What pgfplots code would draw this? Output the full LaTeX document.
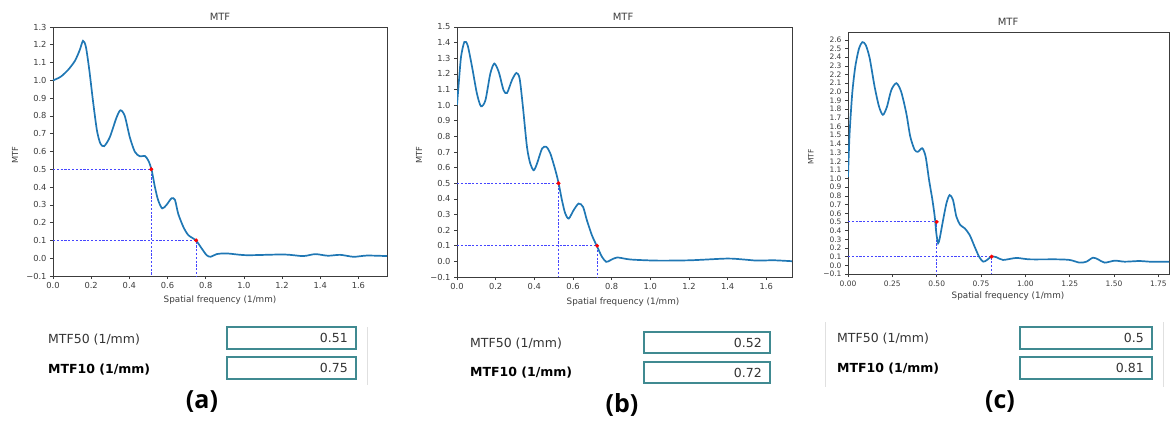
\documentclass[border=0pt]{standalone}
\usepackage{pgfplots}
\pgfplotsset{compat=1.18}
\usepackage{fontspec}
\setmainfont{DejaVu Sans}
\newfontfamily\capfont{Open Sans}
\definecolor{mplblue}{HTML}{1F77B4}
\definecolor{boxteal}{RGB}{64,138,145}
\definecolor{axgray}{RGB}{60,60,60}
\definecolor{guideblue}{RGB}{70,70,255}

\pgfplotsset{
  mtf/.style={
    scale only axis, anchor=south west,
    axis line style={axgray, line width=0.6pt},
    tick align=outside, xtick pos=bottom, ytick pos=left,
    major tick length=3pt,
    tick style={axgray, line width=0.6pt},
    ticklabel style={font=\fontsize{8.3}{9}\selectfont, text=axgray},
    clip=true,
  },
  curve/.style={draw=mplblue, line width=1.7pt, smooth, tension=0.45, no markers},
  guide/.style={draw=guideblue, line width=1pt, dash pattern=on 2.2pt off 1.6pt, no markers},
  hit/.style={draw=red, fill=red, only marks, mark=*, mark size=1.8pt},
}

\begin{document}
\begin{tikzpicture}
\useasboundingbox (0,0) rectangle (1170pt,421pt);

% ---------------- (a) ----------------
\begin{axis}[mtf, at={(53pt,145pt)}, width=334pt, height=249pt,
  xmin=0, xmax=1.75, ymin=-0.1, ymax=1.3,
  xtick={0,0.2,0.4,0.6,0.8,1.0,1.2,1.4,1.6},
  xticklabels={0.0,0.2,0.4,0.6,0.8,1.0,1.2,1.4,1.6},
  ytick={-0.1,0,0.1,0.2,0.3,0.4,0.5,0.6,0.7,0.8,0.9,1.0,1.1,1.2,1.3},
  yticklabels={−0.1,0.0,0.1,0.2,0.3,0.4,0.5,0.6,0.7,0.8,0.9,1.0,1.1,1.2,1.3}]
\addplot[guide] coordinates {(0,0.5) (0.515,0.5) (0.515,-0.1)};
\addplot[guide] coordinates {(0,0.1) (0.75,0.1) (0.75,-0.1)};
\addplot[curve] coordinates {
(0,1.0) (0.04,1.02) (0.08,1.06) (0.115,1.11) (0.14,1.17) (0.157,1.222) (0.172,1.19)
(0.19,1.06) (0.21,0.88) (0.23,0.72) (0.248,0.645) (0.268,0.63) (0.2975,0.68) (0.3325,0.79)
(0.3535,0.832) (0.376,0.80) (0.4025,0.68) (0.429,0.598) (0.455,0.573) (0.481,0.575)
(0.499,0.55) (0.516,0.50) (0.534,0.40) (0.551,0.326) (0.572,0.28) (0.595,0.30)
(0.621,0.337) (0.639,0.328) (0.656,0.25) (0.683,0.176) (0.709,0.13) (0.749,0.10)
(0.779,0.055) (0.805,0.017) (0.826,0.008) (0.8575,0.023) (0.91,0.027) (1.015,0.017)
(1.21,0.021) (1.31,0.012) (1.374,0.023) (1.44,0.014) (1.505,0.019) (1.575,0.008)
(1.645,0.015) (1.75,0.012)};
\addplot[hit] coordinates {(0.515,0.5) (0.75,0.1)};
\end{axis}

% ---------------- (b) ----------------
\begin{axis}[mtf, at={(457pt,144pt)}, width=335pt, height=250pt,
  xmin=0, xmax=1.733, ymin=-0.1, ymax=1.5,
  xtick={0,0.2,0.4,0.6,0.8,1.0,1.2,1.4,1.6},
  xticklabels={0.0,0.2,0.4,0.6,0.8,1.0,1.2,1.4,1.6},
  ytick={-0.1,0,0.1,0.2,0.3,0.4,0.5,0.6,0.7,0.8,0.9,1.0,1.1,1.2,1.3,1.4,1.5},
  yticklabels={−0.1,0.0,0.1,0.2,0.3,0.4,0.5,0.6,0.7,0.8,0.9,1.0,1.1,1.2,1.3,1.4,1.5}]
\addplot[guide] coordinates {(0,0.5) (0.525,0.5) (0.525,-0.1)};
\addplot[guide] coordinates {(0,0.1) (0.725,0.1) (0.725,-0.1)};
\addplot[curve] coordinates {
(0,1.0) (0.009,1.14) (0.021,1.31) (0.038,1.404) (0.055,1.383) (0.078,1.244)
(0.103,1.074) (0.124,0.993) (0.147,1.031) (0.172,1.20) (0.193,1.266) (0.216,1.212)
(0.241,1.095) (0.259,1.078) (0.284,1.159) (0.307,1.206) (0.324,1.17) (0.341,0.988)
(0.362,0.732) (0.379,0.626) (0.397,0.583) (0.414,0.626) (0.44,0.722) (0.462,0.733)
(0.483,0.69) (0.509,0.583) (0.526,0.498) (0.543,0.391) (0.560,0.306) (0.578,0.274)
(0.603,0.327) (0.629,0.37) (0.652,0.349) (0.672,0.263) (0.698,0.167) (0.724,0.097)
(0.75,0.029) (0.772,-0.003) (0.793,0.007) (0.828,0.025) (0.897,0.012) (1.034,0.005)
(1.207,0.007) (1.397,0.018) (1.483,0.012) (1.552,0.005) (1.638,0.007) (1.733,0.001)};
\addplot[hit] coordinates {(0.525,0.5) (0.725,0.1)};
\end{axis}

% ---------------- (c) ----------------
\begin{axis}[mtf, at={(848pt,147pt)}, width=321pt, height=242pt,
  xmin=0, xmax=1.81, ymin=-0.1, ymax=2.69,
  ticklabel style={font=\fontsize{7.5}{8}\selectfont},
  xtick={0,0.25,0.5,0.75,1.0,1.25,1.5,1.75},
  xticklabels={0.00,0.25,0.50,0.75,1.00,1.25,1.50,1.75},
  ytick={-0.1,0,0.1,0.2,0.3,0.4,0.5,0.6,0.7,0.8,0.9,1.0,1.1,1.2,1.3,1.4,1.5,1.6,1.7,1.8,1.9,2.0,2.1,2.2,2.3,2.4,2.5,2.6},
  yticklabels={−0.1,0.0,0.1,0.2,0.3,0.4,0.5,0.6,0.7,0.8,0.9,1.0,1.1,1.2,1.3,1.4,1.5,1.6,1.7,1.8,1.9,2.0,2.1,2.2,2.3,2.4,2.5,2.6}]
\addplot[guide] coordinates {(0,0.5) (0.5,0.5) (0.5,-0.1)};
\addplot[guide] coordinates {(0,0.1) (0.81,0.1) (0.81,-0.1)};
\addplot[curve] coordinates {
(0,1.02) (0.009,1.52) (0.024,1.985) (0.041,2.29) (0.062,2.50) (0.081,2.573)
(0.10,2.54) (0.122,2.39) (0.15,2.06) (0.175,1.83) (0.197,1.735) (0.22,1.83)
(0.244,2.02) (0.273,2.10) (0.30,2.0) (0.329,1.75) (0.351,1.485) (0.376,1.33)
(0.395,1.31) (0.419,1.35) (0.438,1.25) (0.457,0.985) (0.476,0.754) (0.489,0.562)
(0.498,0.37) (0.508,0.254) (0.517,0.31) (0.536,0.52) (0.555,0.715) (0.573,0.81)
(0.592,0.754) (0.611,0.562) (0.633,0.465) (0.658,0.427) (0.686,0.35) (0.714,0.215)
(0.739,0.10) (0.762,0.042) (0.784,0.062) (0.808,0.10) (0.836,0.095) (0.874,0.062)
(0.949,0.085) (1.024,0.069) (1.174,0.069) (1.25,0.062) (1.306,0.031) (1.344,0.042)
(1.381,0.088) (1.41,0.069) (1.447,0.031) (1.504,0.054) (1.56,0.042) (1.645,0.05)
(1.70,0.042) (1.814,0.042)};
\addplot[hit] coordinates {(0.5,0.5) (0.81,0.1)};
\end{axis}

% ---------------- axis texts ----------------
\begin{scope}[every node/.style={text=axgray, inner sep=0pt}]
\node[font=\fontsize{10}{11}\selectfont] at (220pt,404pt) {MTF};
\node[font=\fontsize{10}{11}\selectfont] at (623pt,404pt) {MTF};
\node[font=\fontsize{10}{11}\selectfont] at (1008pt,399pt) {MTF};
\node[font=\fontsize{8.8}{10}\selectfont] at (220pt,121pt) {Spatial frequency (1/mm)};
\node[font=\fontsize{8.8}{10}\selectfont] at (623pt,119pt) {Spatial frequency (1/mm)};
\node[font=\fontsize{8.8}{10}\selectfont] at (1008pt,125pt) {Spatial frequency (1/mm)};
\node[font=\fontsize{8.3}{9}\selectfont, rotate=90] at (15pt,266pt) {MTF};
\node[font=\fontsize{8.3}{9}\selectfont, rotate=90] at (419pt,266pt) {MTF};
\node[font=\fontsize{7.5}{8}\selectfont, rotate=90] at (811pt,264pt) {MTF};
\end{scope}

% ---------------- result panels ----------------
\begin{scope}[every node/.style={inner sep=0pt}]
\draw[black!12, line width=0.8pt] (367pt,36pt) -- (367pt,94pt);
\draw[black!12, line width=0.8pt] (825pt,34pt) -- (825pt,99pt);
\draw[black!12, line width=0.8pt] (1163pt,34pt) -- (1163pt,99pt);
% (a)
\node[anchor=west, text=black!80, font=\fontsize{12.5}{14}\selectfont] at (48pt,81pt) {MTF50 (1/mm)};
\node[anchor=west, text=black, font=\fontsize{12.5}{14}\selectfont\bfseries] at (48pt,51pt) {MTF10 (1/mm)};
\draw[boxteal, line width=1.6pt, fill=white] (227pt,72pt) rectangle (356pt,94pt);
\draw[boxteal, line width=1.6pt, fill=white] (227pt,42pt) rectangle (356pt,64pt);
\node[anchor=east, text=black!80, font=\fontsize{12.5}{14}\selectfont] at (348pt,83pt) {0.51};
\node[anchor=east, text=black!80, font=\fontsize{12.5}{14}\selectfont] at (348pt,53pt) {0.75};
\node[font=\capfont\fontsize{25}{28}\selectfont\bfseries] at (202pt,19pt) {(a)};
% (b)
\node[anchor=west, text=black!80, font=\fontsize{12.5}{14}\selectfont] at (470pt,77pt) {MTF50 (1/mm)};
\node[anchor=west, text=black, font=\fontsize{12.5}{14}\selectfont\bfseries] at (470pt,48pt) {MTF10 (1/mm)};
\draw[boxteal, line width=1.6pt, fill=white] (644pt,68pt) rectangle (770pt,89pt);
\draw[boxteal, line width=1.6pt, fill=white] (644pt,38pt) rectangle (770pt,59pt);
\node[anchor=east, text=black!80, font=\fontsize{12.5}{14}\selectfont] at (762pt,78.5pt) {0.52};
\node[anchor=east, text=black!80, font=\fontsize{12.5}{14}\selectfont] at (762pt,48.5pt) {0.72};
\node[font=\capfont\fontsize{25}{28}\selectfont\bfseries] at (622pt,16pt) {(b)};
% (c)
\node[anchor=west, text=black!80, font=\fontsize{12.5}{14}\selectfont] at (837pt,82pt) {MTF50 (1/mm)};
\node[anchor=west, text=black, font=\fontsize{12.5}{14}\selectfont\bfseries] at (837pt,52pt) {MTF10 (1/mm)};
\draw[boxteal, line width=1.6pt, fill=white] (1020pt,72pt) rectangle (1152pt,94pt);
\draw[boxteal, line width=1.6pt, fill=white] (1020pt,42pt) rectangle (1152pt,64pt);
\node[anchor=east, text=black!80, font=\fontsize{12.5}{14}\selectfont] at (1144pt,83pt) {0.5};
\node[anchor=east, text=black!80, font=\fontsize{12.5}{14}\selectfont] at (1144pt,53pt) {0.81};
\node[font=\capfont\fontsize{25}{28}\selectfont\bfseries] at (1000pt,19pt) {(c)};
\end{scope}
\end{tikzpicture}
\end{document}
